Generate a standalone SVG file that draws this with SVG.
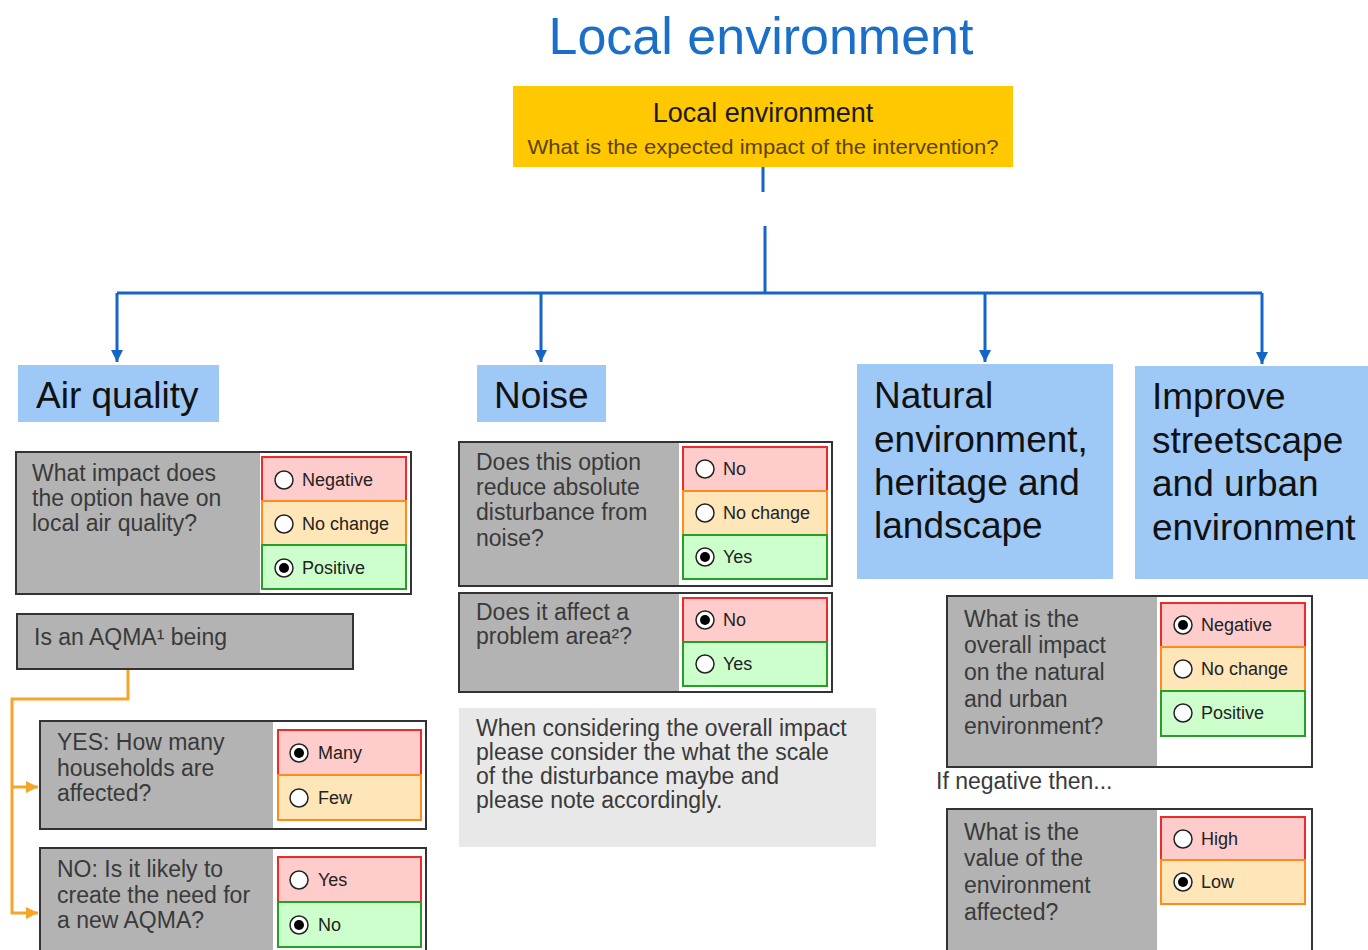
<svg xmlns="http://www.w3.org/2000/svg" width="1368" height="950" viewBox="0 0 1368 950">
<style>
text{font-family:"Liberation Sans",Arial,sans-serif}
.title{font-size:52px;fill:#1a6fc8}
.hdr{fill:#9ec9f7}
.hdrt{font-size:37px;fill:#111}
.q{font-size:23px;fill:#3a3a3a}
.box{fill:#fff;stroke:#333;stroke-width:2}
.gray{fill:#b3b3b3}
.opt{font-size:18px;fill:#222}
.neg{fill:#ffcccc;stroke:#ee2b2b;stroke-width:2}
.mid{fill:#ffe6b8;stroke:#ff8a1e;stroke-width:2}
.pos{fill:#ccffcc;stroke:#25a025;stroke-width:2}
.rad{fill:#fff;stroke:#222;stroke-width:1.5}
.dot{fill:#000}
.blue{stroke:#1466c6;stroke-width:3;fill:none}
.orng{stroke:#f7a52a;stroke-width:3;fill:none}
</style>
<defs>
<marker id="ab" viewBox="0 0 10 10" refX="10" refY="5" markerWidth="13" markerHeight="12" markerUnits="userSpaceOnUse" orient="auto"><path d="M0,0 L10,5 L0,10 z" fill="#1466c6"/></marker>
<marker id="ao" viewBox="0 0 10 10" refX="10" refY="5" markerWidth="13" markerHeight="12" markerUnits="userSpaceOnUse" orient="auto"><path d="M0,0 L10,5 L0,10 z" fill="#f7a52a"/></marker>
</defs>
<rect width="1368" height="950" fill="#fff"/>
<text class="title" x="761" y="54" text-anchor="middle">Local environment</text>

<g id="connectors">
<path class="blue" d="M763,167 V192"/>
<path class="blue" d="M765,226 V293"/>
<path class="blue" d="M117,293 H1262"/>
<path class="blue" d="M117,293 V362" marker-end="url(#ab)"/>
<path class="blue" d="M541,293 V362" marker-end="url(#ab)"/>
<path class="blue" d="M985,293 V362" marker-end="url(#ab)"/>
<path class="blue" d="M1262,293 V364" marker-end="url(#ab)"/>
<path class="orng" d="M128,669 V699 H12 V913 H38" marker-end="url(#ao)"/>
<path class="orng" d="M12,787 H38" marker-end="url(#ao)"/>
</g>

<g id="root">
<rect x="513" y="86" width="500" height="81" fill="#ffc800"/>
<text x="763" y="122" text-anchor="middle" font-size="27" fill="#1a1a1a">Local environment</text>
<text x="763" y="154" text-anchor="middle" font-size="21" fill="#5a4300" textLength="471" lengthAdjust="spacingAndGlyphs">What is the expected impact of the intervention?</text>
</g>

<g id="hdr-air"><rect class="hdr" x="18" y="365" width="201" height="57"/><text class="hdrt" x="36" y="408">Air quality</text></g>
<g id="hdr-noise"><rect class="hdr" x="477" y="365" width="129" height="57"/><text class="hdrt" x="494" y="408">Noise</text></g>
<g id="hdr-natural"><rect class="hdr" x="857" y="364" width="256" height="215"/>
<text class="hdrt" x="874"><tspan x="874" y="408">Natural</tspan><tspan x="874" y="452">environment,</tspan><tspan x="874" y="495">heritage and</tspan><tspan x="874" y="538">landscape</tspan></text></g>
<g id="hdr-improve"><rect class="hdr" x="1135" y="366" width="233" height="213"/>
<text class="hdrt" x="1152"><tspan x="1152" y="409">Improve</tspan><tspan x="1152" y="453">streetscape</tspan><tspan x="1152" y="496">and urban</tspan><tspan x="1152" y="540">environment</tspan></text></g>

<g id="air-q1">
<rect class="box" x="16" y="452" width="395" height="142"/>
<rect class="gray" x="17" y="453" width="243" height="140"/>
<text class="q"><tspan x="32" y="481">What impact does</tspan><tspan x="32" y="506">the option have on</tspan><tspan x="32" y="531">local air quality?</tspan></text>
<rect class="neg" x="262" y="457" width="144" height="44"/>
<rect class="mid" x="262" y="501" width="144" height="44"/>
<rect class="pos" x="262" y="545" width="144" height="44"/>
<circle class="rad" cx="284" cy="480" r="9"/><text class="opt" x="302" y="486">Negative</text>
<circle class="rad" cx="284" cy="524" r="9"/><text class="opt" x="302" y="530">No change</text>
<circle class="rad" cx="284" cy="568" r="9"/><circle class="dot" cx="284" cy="568" r="5"/><text class="opt" x="302" y="574">Positive</text>
</g>

<g id="air-aqma">
<rect x="17" y="614" width="336" height="55" fill="#b3b3b3" stroke="#333" stroke-width="2"/>
<text class="q" x="34" y="645">Is an AQMA¹ being</text>
</g>

<g id="air-yes">
<rect class="box" x="40" y="721" width="386" height="108"/>
<rect class="gray" x="41" y="722" width="232" height="106"/>
<text class="q"><tspan x="57" y="750">YES: How many</tspan><tspan x="57" y="776">households are</tspan><tspan x="57" y="801">affected?</tspan></text>
<rect class="neg" x="278" y="730" width="143" height="45"/>
<rect class="mid" x="278" y="775" width="143" height="45"/>
<circle class="rad" cx="299" cy="753" r="9"/><circle class="dot" cx="299" cy="753" r="5"/><text class="opt" x="318" y="759">Many</text>
<circle class="rad" cx="299" cy="798" r="9"/><text class="opt" x="318" y="804">Few</text>
</g>

<g id="air-no">
<rect class="box" x="40" y="848" width="386" height="110"/>
<rect class="gray" x="41" y="849" width="232" height="108"/>
<text class="q"><tspan x="57" y="877">NO: Is it likely to</tspan><tspan x="57" y="903">create the need for</tspan><tspan x="57" y="928">a new AQMA?</tspan></text>
<rect class="neg" x="278" y="857" width="143" height="45"/>
<rect class="pos" x="278" y="902" width="143" height="45"/>
<circle class="rad" cx="299" cy="880" r="9"/><text class="opt" x="318" y="886">Yes</text>
<circle class="rad" cx="299" cy="925" r="9"/><circle class="dot" cx="299" cy="925" r="5"/><text class="opt" x="318" y="931">No</text>
</g>

<g id="noise-q1">
<rect class="box" x="459" y="442" width="373" height="144"/>
<rect class="gray" x="460" y="443" width="219" height="142"/>
<text class="q"><tspan x="476" y="470">Does this option</tspan><tspan x="476" y="495">reduce absolute</tspan><tspan x="476" y="520">disturbance from</tspan><tspan x="476" y="546">noise?</tspan></text>
<rect class="neg" x="683" y="447" width="144" height="44"/>
<rect class="mid" x="683" y="491" width="144" height="44"/>
<rect class="pos" x="683" y="535" width="144" height="44"/>
<circle class="rad" cx="705" cy="469" r="9"/><text class="opt" x="723" y="475">No</text>
<circle class="rad" cx="705" cy="513" r="9"/><text class="opt" x="723" y="519">No change</text>
<circle class="rad" cx="705" cy="557" r="9"/><circle class="dot" cx="705" cy="557" r="5"/><text class="opt" x="723" y="563">Yes</text>
</g>

<g id="noise-q2">
<rect class="box" x="459" y="593" width="373" height="99"/>
<rect class="gray" x="460" y="594" width="219" height="97"/>
<text class="q"><tspan x="476" y="620">Does it affect a</tspan><tspan x="476" y="644">problem area²?</tspan></text>
<rect class="neg" x="683" y="598" width="144" height="44"/>
<rect class="pos" x="683" y="642" width="144" height="44"/>
<circle class="rad" cx="705" cy="620" r="9"/><circle class="dot" cx="705" cy="620" r="5"/><text class="opt" x="723" y="626">No</text>
<circle class="rad" cx="705" cy="664" r="9"/><text class="opt" x="723" y="670">Yes</text>
</g>

<g id="noise-note">
<rect x="459" y="708" width="417" height="139" fill="#e8e8e8"/>
<text class="q" fill="#333"><tspan x="476" y="736">When considering the overall impact</tspan><tspan x="476" y="760">please consider the what the scale</tspan><tspan x="476" y="784">of the disturbance maybe and</tspan><tspan x="476" y="808">please note accordingly.</tspan></text>
</g>

<g id="natural-q1">
<rect class="box" x="947" y="596" width="365" height="171"/>
<rect class="gray" x="948" y="597" width="209" height="169"/>
<text class="q"><tspan x="964" y="627">What is the</tspan><tspan x="964" y="653">overall impact</tspan><tspan x="964" y="680">on the natural</tspan><tspan x="964" y="707">and urban</tspan><tspan x="964" y="734">environment?</tspan></text>
<rect class="neg" x="1161" y="603" width="144" height="44"/>
<rect class="mid" x="1161" y="647" width="144" height="44"/>
<rect class="pos" x="1161" y="691" width="144" height="45"/>
<circle class="rad" cx="1183" cy="625" r="9"/><circle class="dot" cx="1183" cy="625" r="5"/><text class="opt" x="1201" y="631">Negative</text>
<circle class="rad" cx="1183" cy="669" r="9"/><text class="opt" x="1201" y="675">No change</text>
<circle class="rad" cx="1183" cy="713" r="9"/><text class="opt" x="1201" y="719">Positive</text>
</g>

<text id="if-negative" class="q" fill="#333" x="936" y="789">If negative then...</text>

<g id="natural-q2">
<rect class="box" x="947" y="809" width="365" height="150"/>
<rect class="gray" x="948" y="810" width="209" height="148"/>
<text class="q"><tspan x="964" y="840">What is the</tspan><tspan x="964" y="866">value of the</tspan><tspan x="964" y="893">environment</tspan><tspan x="964" y="920">affected?</tspan></text>
<rect class="neg" x="1161" y="817" width="144" height="43"/>
<rect class="mid" x="1161" y="860" width="144" height="44"/>
<circle class="rad" cx="1183" cy="839" r="9"/><text class="opt" x="1201" y="845">High</text>
<circle class="rad" cx="1183" cy="882" r="9"/><circle class="dot" cx="1183" cy="882" r="5"/><text class="opt" x="1201" y="888">Low</text>
</g>
</svg>
